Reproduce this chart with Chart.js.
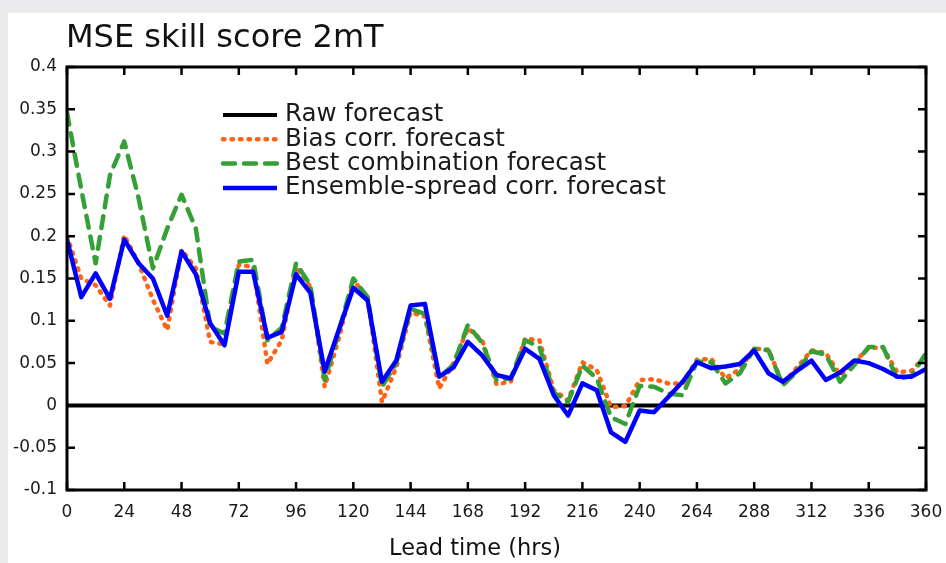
<!DOCTYPE html>
<html><head><meta charset="utf-8">
<script src="https://cdn.jsdelivr.net/npm/chart.js@4.4.0/dist/chart.umd.min.js"></script>
<style>
html,body{margin:0;padding:0;background:#ebebed;overflow:hidden;}
#wrap{position:absolute;left:0;top:0;width:946px;height:563px;}
#panel{position:absolute;left:8px;top:13px;right:0;bottom:0;background:#fff;}
canvas{position:absolute;left:0;top:0;}
</style></head><body>
<div id="wrap"><div id="panel"></div><canvas id="c" width="946" height="563"></canvas></div>
<script>
const chartTitle = 'MSE skill score 2mT';
const xAxisTitle = 'Lead time (hrs)';
const seriesNames = ['Raw forecast', 'Bias corr. forecast', 'Best combination forecast', 'Ensemble-spread corr. forecast'];

const leadHours = [0,6,12,18,24,30,36,42,48,54,60,66,72,78,84,90,96,102,108,114,120,126,132,138,144,150,156,162,168,174,180,186,192,198,204,210,216,222,228,234,240,246,252,258,264,270,276,282,288,294,300,306,312,318,324,330,336,342,348,354,360];

const rawForecast = [0,0,0,0,0,0,0,0,0,0,0,0,0,0,0,0,0,0,0,0,0,0,0,0,0,0,0,0,0,0,0,0,0,0,0,0,0,0,0,0,0,0,0,0,0,0,0,0,0,0,0,0,0,0,0,0,0,0,0,0,0];

const biasCorrForecast = [0.200,0.150,0.142,0.118,0.201,0.168,0.125,0.089,0.184,0.162,0.075,0.072,0.166,0.164,0.049,0.077,0.164,0.140,0.022,0.080,0.148,0.127,0.004,0.045,0.110,0.105,0.020,0.050,0.091,0.077,0.025,0.028,0.079,0.077,0.018,0.006,0.051,0.042,-0.002,-0.001,0.030,0.031,0.026,0.026,0.054,0.055,0.032,0.043,0.067,0.066,0.025,0.045,0.065,0.062,0.036,0.051,0.068,0.068,0.039,0.041,0.059];

const bestCombinationForecast = [0.346,0.255,0.168,0.272,0.312,0.245,0.162,0.209,0.249,0.209,0.093,0.085,0.170,0.172,0.077,0.092,0.168,0.142,0.030,0.088,0.150,0.128,0.022,0.050,0.114,0.108,0.033,0.048,0.095,0.074,0.030,0.032,0.077,0.069,0.015,0.004,0.047,0.032,-0.014,-0.022,0.023,0.022,0.014,0.012,0.052,0.051,0.026,0.038,0.067,0.065,0.024,0.040,0.064,0.060,0.028,0.048,0.069,0.069,0.031,0.035,0.062];

const ensembleSpreadCorrForecast = [0.196,0.128,0.156,0.126,0.196,0.168,0.150,0.106,0.182,0.155,0.097,0.071,0.158,0.158,0.080,0.087,0.155,0.133,0.040,0.090,0.139,0.124,0.028,0.053,0.118,0.120,0.034,0.045,0.075,0.059,0.036,0.032,0.067,0.055,0.012,-0.012,0.026,0.018,-0.032,-0.043,-0.006,-0.008,0.010,0.028,0.051,0.044,0.046,0.049,0.065,0.038,0.028,0.041,0.053,0.030,0.039,0.053,0.050,0.043,0.034,0.034,0.043];

const xTickValues = [0,24,48,72,96,120,144,168,192,216,240,264,288,312,336,360];
const yTickValues = [-0.1,-0.05,0,0.05,0.1,0.15,0.2,0.25,0.3,0.35,0.4];

const FONT = "'DejaVu Sans', 'Liberation Sans', sans-serif";

const decorPlugin = {
  id: 'decor',
  afterDatasetsDraw(chart) {
    const {ctx, chartArea: a, scales: {x, y}} = chart;
    ctx.save();
    // frame
    ctx.strokeStyle = '#000';
    ctx.lineWidth = 3;
    ctx.setLineDash([]);
    ctx.strokeRect(a.left, a.top, a.right - a.left, a.bottom - a.top);
    // inward ticks
    const L = 8;
    ctx.lineWidth = 2.5;
    ctx.beginPath();
    xTickValues.forEach(v => {
      const px = x.getPixelForValue(v);
      ctx.moveTo(px, a.bottom); ctx.lineTo(px, a.bottom - L);
      ctx.moveTo(px, a.top); ctx.lineTo(px, a.top + L);
    });
    yTickValues.forEach(v => {
      const py = y.getPixelForValue(v);
      ctx.moveTo(a.left, py); ctx.lineTo(a.left + L, py);
      ctx.moveTo(a.right, py); ctx.lineTo(a.right - L, py);
    });
    ctx.stroke();
    // legend
    chart.data.datasets.forEach((ds, i) => {
      const ly = a.top + 48 + i * 24.3;
      const lx0 = a.left + 156, lx1 = a.left + 210;
      ctx.beginPath();
      ctx.strokeStyle = ds.borderColor;
      ctx.lineWidth = ds.borderWidth;
      ctx.lineCap = ds.borderCapStyle || 'butt';
      ctx.setLineDash(ds.borderDash || []);
      ctx.moveTo(lx0, ly); ctx.lineTo(lx1, ly);
      ctx.stroke();
      ctx.setLineDash([]);
      ctx.fillStyle = '#1a1a1a';
      ctx.font = '24.5px ' + FONT;
      ctx.textBaseline = 'middle';
      ctx.textAlign = 'left';
      ctx.fillText(ds.label, a.left + 218, ly);
    });
    // title
    ctx.fillStyle = '#111';
    ctx.font = '32px ' + FONT;
    ctx.textBaseline = 'alphabetic';
    ctx.textAlign = 'left';
    ctx.fillText(chartTitle, a.left - 1, 47);
    // x axis title
    ctx.font = '22.5px ' + FONT;
    ctx.textAlign = 'center';
    ctx.textBaseline = 'middle';
    ctx.fillText(xAxisTitle, a.left + 408, 549);
    ctx.restore();
  }
};

new Chart(document.getElementById('c'), {
  type: 'line',
  data: {
    labels: leadHours,
    datasets: [
      { label: seriesNames[0], data: rawForecast, borderColor: '#000000', borderWidth: 4, order: 3, borderCapStyle: 'butt' },
      { label: seriesNames[1], data: biasCorrForecast, borderColor: '#ff6414', borderWidth: 4.5, borderDash: [1.5, 7], borderCapStyle: 'round', order: 2 },
      { label: seriesNames[2], data: bestCombinationForecast, borderColor: '#35a035', borderWidth: 4.5, borderDash: [12, 9], borderCapStyle: 'round', order: 1 },
      { label: seriesNames[3], data: ensembleSpreadCorrForecast, borderColor: '#0000ff', borderWidth: 4.5, order: 0, borderCapStyle: 'butt' }
    ]
  },
  options: {
    responsive: false,
    animation: false,
    devicePixelRatio: 1,
    layout: { padding: { left: 0, right: 20, top: 67, bottom: 0 } },
    elements: { point: { radius: 0, hoverRadius: 0 }, line: { tension: 0, borderJoinStyle: 'round' } },
    plugins: { legend: { display: false }, tooltip: { enabled: false }, title: { display: false } },
    scales: {
      x: {
        type: 'linear', min: 0, max: 360,
        afterBuildTicks: s => { s.ticks = xTickValues.map(v => ({ value: v })); },
        afterFit: s => { s.height = 73; s.paddingRight = 0; s.paddingLeft = 0; },
        grid: { display: false, drawTicks: false },
        border: { display: false },
        ticks: { padding: 12, color: '#1a1a1a', font: { family: FONT, size: 17 }, maxRotation: 0, autoSkip: false },
        title: { display: false }
      },
      y: {
        type: 'linear', min: -0.1, max: 0.4,
        afterBuildTicks: s => { s.ticks = yTickValues.map(v => ({ value: v })); },
        afterFit: s => { s.width = 67; s.paddingTop = 0; s.paddingBottom = 0; },
        grid: { display: false, drawTicks: false },
        border: { display: false },
        ticks: { padding: 10, color: '#1a1a1a', font: { family: FONT, size: 17 }, autoSkip: false,
          callback: v => String(parseFloat(v.toFixed(2))) }
      }
    }
  },
  plugins: [decorPlugin]
});
</script>
</body></html>
